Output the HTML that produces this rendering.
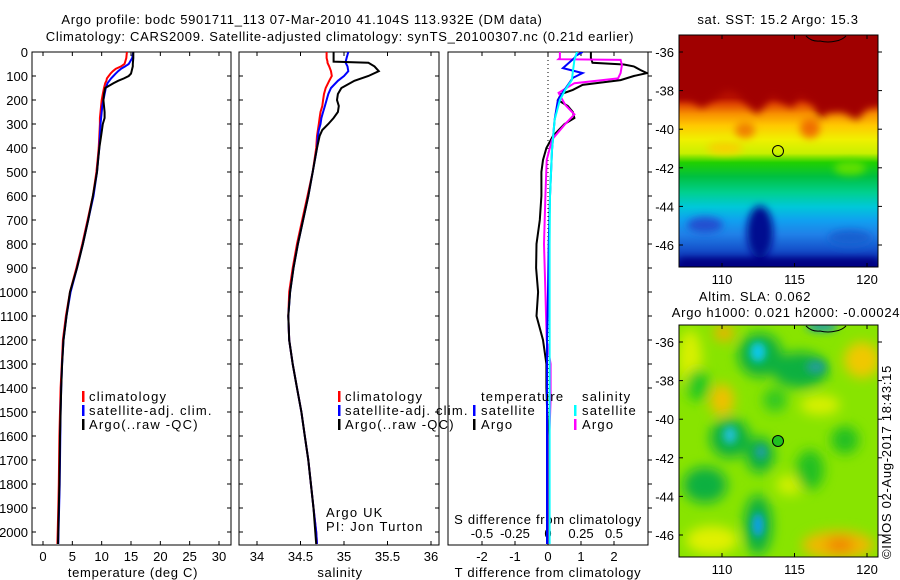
<!DOCTYPE html>
<html><head><meta charset="utf-8">
<style>
html,body{margin:0;padding:0;background:#fff;}
svg{display:block;font-family:"Liberation Sans",sans-serif;}
text{font-size:13px;fill:#000;}
.w{letter-spacing:0.7px;}
.lw{letter-spacing:1.2px;}
</style></head>
<body>
<svg id="fig" width="900" height="580" viewBox="0 0 900 580" xmlns="http://www.w3.org/2000/svg">
<defs>
<clipPath id="c1"><rect x="32" y="52" width="199" height="493"/></clipPath>
<clipPath id="c2"><rect x="239" y="52" width="200" height="493"/></clipPath>
<clipPath id="c3"><rect x="448" y="52" width="200" height="493"/></clipPath>
<clipPath id="m1"><rect x="679" y="35" width="199" height="232"/></clipPath>
<clipPath id="m2"><rect x="679" y="325" width="199" height="232"/></clipPath>
<linearGradient id="sstg" gradientUnits="userSpaceOnUse" x1="0" y1="35" x2="0" y2="267">
<stop offset="0" stop-color="#a00000"/><stop offset="0.27" stop-color="#b81000"/>
<stop offset="0.3" stop-color="#e04800"/><stop offset="0.34" stop-color="#f89000"/>
<stop offset="0.39" stop-color="#ffc800"/><stop offset="0.45" stop-color="#f0f000"/>
<stop offset="0.51" stop-color="#c8f000"/><stop offset="0.55" stop-color="#20d000"/>
<stop offset="0.61" stop-color="#00c040"/><stop offset="0.68" stop-color="#00d090"/>
<stop offset="0.74" stop-color="#00c8d8"/><stop offset="0.8" stop-color="#10a0f0"/>
<stop offset="0.86" stop-color="#2080e8"/><stop offset="0.95" stop-color="#1040c0"/>
<stop offset="1" stop-color="#000090"/></linearGradient>
<filter id="bl" x="-20%" y="-20%" width="140%" height="140%"><feGaussianBlur stdDeviation="4"/></filter>
<filter id="bl2" x="-30%" y="-30%" width="160%" height="160%"><feGaussianBlur stdDeviation="6"/></filter>
</defs>

<text class="w" x="302" y="24" text-anchor="middle">Argo profile: bodc 5901711_113 07-Mar-2010 41.104S 113.932E (DM data)</text>
<text class="w" x="340" y="41" text-anchor="middle">Climatology: CARS2009. Satellite-adjusted climatology: synTS_20100307.nc (0.21d earlier)</text>

<g id="p1"></g>
<g id="p2"></g>
<g id="p3"></g>

<g>
<text class="w" x="778" y="24" text-anchor="middle">sat. SST: 15.2 Argo: 15.3</text>
<g clip-path="url(#m1)">
<rect x="679" y="35" width="199" height="232" fill="url(#sstg)"/>
<g filter="url(#bl)">
<polygon fill="#a00000" points="660,20 900,20 900,104 868,108 857,120 842,112 828,113 820,119 812,104 800,96 792,108 780,101 772,96 765,106 757,114 746,104 738,94 727,90 716,98 702,108 690,100 670,100"/>
<ellipse cx="745" cy="130" rx="10" ry="8" fill="#f08000"/>
<ellipse cx="810" cy="128" rx="10" ry="10" fill="#f07000"/>
<ellipse cx="725" cy="148" rx="18" ry="6" fill="#f8d000"/>
<ellipse cx="850" cy="168" rx="16" ry="7" fill="#60e000"/>
<ellipse cx="760" cy="232" rx="13" ry="26" fill="#001090"/>
<ellipse cx="705" cy="225" rx="18" ry="8" fill="#2050d0"/>
<ellipse cx="850" cy="238" rx="22" ry="8" fill="#1860d0"/>
<rect x="679" y="258" width="199" height="12" fill="#000080"/>
</g>
<path d="M806,36 Q812,42 820,41 Q828,43 836,41 Q842,40 846,36" fill="none" stroke="#000" stroke-width="1"/>
</g>
<rect x="679" y="35" width="199" height="232" fill="none" stroke="#000" stroke-width="1"/>
<circle cx="778" cy="151" r="5.5" fill="none" stroke="#000" stroke-width="1"/>
<g id="m1ax"></g>
</g>

<g>
<text class="w" x="755" y="301" text-anchor="middle">Altim. SLA: 0.062</text>
<text class="w" x="786" y="317" text-anchor="middle">Argo h1000: 0.021 h2000: -0.00024</text>
<g clip-path="url(#m2)">
<rect x="679" y="325" width="199" height="232" fill="#88e400"/>
<g filter="url(#bl2)">
<ellipse cx="690" cy="360" rx="12" ry="30" fill="#d8f000"/>
<ellipse cx="724" cy="333" rx="10" ry="8" fill="#f0b000"/>
<ellipse cx="722" cy="400" rx="12" ry="16" fill="#f0c000"/>
<ellipse cx="862" cy="360" rx="18" ry="18" fill="#f0c800"/>
<ellipse cx="820" cy="405" rx="20" ry="10" fill="#d8f000"/>
<ellipse cx="790" cy="485" rx="14" ry="10" fill="#d0f000"/>
<ellipse cx="712" cy="540" rx="26" ry="14" fill="#e0f000"/>
<ellipse cx="838" cy="545" rx="36" ry="14" fill="#f0b800"/>
<ellipse cx="840" cy="545" rx="14" ry="7" fill="#f08000"/>
<ellipse cx="698" cy="385" rx="12" ry="16" fill="#20c820"/>
<ellipse cx="760" cy="355" rx="22" ry="22" fill="#10b040"/>
<ellipse cx="800" cy="370" rx="28" ry="18" fill="#10b040"/>
<ellipse cx="730" cy="438" rx="20" ry="20" fill="#10b040"/>
<ellipse cx="760" cy="455" rx="14" ry="18" fill="#10b040"/>
<ellipse cx="705" cy="485" rx="22" ry="18" fill="#10b040"/>
<ellipse cx="758" cy="525" rx="14" ry="30" fill="#10b040"/>
<ellipse cx="810" cy="470" rx="14" ry="20" fill="#20c020"/>
<ellipse cx="845" cy="440" rx="14" ry="14" fill="#20c020"/>
<ellipse cx="775" cy="400" rx="12" ry="12" fill="#30c820"/>
</g>
<g filter="url(#bl)">
<ellipse cx="758" cy="352" rx="8" ry="10" fill="#10c8e8"/>
<ellipse cx="816" cy="367" rx="10" ry="7" fill="#20a090"/>
<ellipse cx="730" cy="435" rx="7" ry="9" fill="#20c0d0"/>
<ellipse cx="761" cy="452" rx="6" ry="7" fill="#20a0a0"/>
<ellipse cx="758" cy="525" rx="6" ry="12" fill="#10a0e8"/>
<ellipse cx="822" cy="327" rx="16" ry="5" fill="#20a0a0"/>
</g>
<path d="M806,326 Q812,332 820,331 Q828,333 836,331 Q842,330 846,326" fill="none" stroke="#000" stroke-width="1"/>
</g>
<rect x="679" y="325" width="199" height="232" fill="none" stroke="#000" stroke-width="1"/>
<circle cx="778" cy="441" r="5.5" fill="#20c020" stroke="#000" stroke-width="1"/>
<g id="m2ax"></g>
</g>
<text class="w" transform="translate(891,462) rotate(-90)" text-anchor="middle">©IMOS 02-Aug-2017 18:43:15</text>

<script>
const depthT = [0,25,50,60,70,80,90,100,110,120,130,150,175,200,225,250,275,300,350,400,450,500,600,700,800,900,1000,1100,1200,1300,1400,1500,1600,1700,1800,1900,2000,2050];
const tempArgo = [15.4,15.4,15.3,15.3,15.2,15.1,15.0,14.6,13.8,12.8,12.0,10.6,10.4,10.3,10.4,10.5,10.5,10.2,9.9,9.6,9.4,9.2,8.5,7.7,6.8,5.8,4.6,4.0,3.5,3.25,3.1,3.0,2.9,2.85,2.8,2.7,2.6,2.55];
const tempClim = [14.3,14.2,13.9,13.3,12.4,11.9,11.5,11.2,10.9,10.8,10.6,10.4,10.2,10.0,9.9,9.8,9.7,9.7,9.6,9.5,9.3,9.1,8.5,7.6,6.7,5.7,4.6,3.9,3.4,3.2,3.0,2.9,2.8,2.75,2.7,2.6,2.5,2.45];
const tempSat = [15.4,15.2,14.6,14.0,13.3,12.8,12.4,12.0,11.6,11.3,11.0,10.7,10.5,10.3,10.1,10.0,9.9,9.8,9.7,9.6,9.4,9.2,8.6,7.7,6.8,5.8,4.7,4.0,3.5,3.25,3.1,3.0,2.95,2.9,2.85,2.75,2.65,2.6];

const depthS = [0,25,40,45,60,80,100,120,150,175,200,225,250,275,300,325,350,400,500,600,700,800,900,1000,1100,1200,1300,1400,1500,1600,1700,1800,1900,2000,2050];
const salArgo = [34.88,34.88,34.88,35.28,35.35,35.40,35.28,35.12,34.97,34.93,34.92,34.94,34.93,34.88,34.82,34.75,34.72,34.69,34.64,34.59,34.53,34.47,34.42,34.38,34.36,34.37,34.41,34.46,34.51,34.55,34.59,34.62,34.65,34.67,34.68];
const salClim = [34.80,34.80,34.81,34.81,34.83,34.85,34.86,34.83,34.79,34.77,34.76,34.75,34.73,34.72,34.71,34.70,34.69,34.68,34.64,34.58,34.52,34.46,34.41,34.37,34.36,34.37,34.41,34.46,34.51,34.55,34.59,34.62,34.65,34.68,34.69];
const salSat = [35.05,35.03,35.02,35.02,35.04,35.05,35.00,34.93,34.85,34.82,34.80,34.78,34.76,34.74,34.73,34.71,34.70,34.69,34.64,34.59,34.53,34.47,34.42,34.38,34.36,34.37,34.41,34.46,34.51,34.55,34.59,34.62,34.65,34.68,34.69];

const depthDTA = [0,25,45,52,60,75,88,100,117,137,158,175,200,225,250,275,300,350,400,450,500,600,700,800,900,1000,1100,1200,1300,1400,1600,1800,2000,2050];
const dTempArgo = [1.3,1.3,1.35,2.3,2.6,2.8,3.0,2.6,2.2,1.05,0.75,0.4,0.3,0.6,0.75,0.8,0.5,0.15,-0.05,-0.15,-0.2,-0.2,-0.25,-0.35,-0.36,-0.3,-0.35,-0.15,-0.05,-0.05,0,0,0,0];
const depthDSA = [0,25,30,33,54,88,110,130,170,220,260,300,365,450,600,800,1000,1200,1300,1450,1600,1800,2000,2050];
const dSalArgo = [0.09,0.09,0.08,0.55,0.56,0.55,0.53,0.2,0.08,0.13,0.2,0.13,0.03,-0.01,-0.02,-0.03,-0.02,-0.01,0.02,0.02,0.01,0.01,0.01,0.01];
const depthDTS = [0,15,25,67,88,108,158,200,283,408,600,800,1000,1200,1400,1600,1800,2000,2050];
const dTempSat = [1.05,0.85,0.8,0.45,1.05,0.75,0.5,0.3,0.2,0.12,0.06,0.02,0,-0.03,-0.03,-0.03,-0.03,-0.03,-0.03];
const depthDSS = [0,33,75,117,158,200,283,408,600,800,1000,1200,1400,1600,1800,2000,2050];
const dSalSat = [0.22,0.2,0.19,0.18,0.13,0.09,0.05,0.03,0.015,0.012,0.012,0.012,0.012,0.012,0.012,0.012,0.012];

const depthTicks = [0,100,200,300,400,500,600,700,800,900,1000,1100,1200,1300,1400,1500,1600,1700,1800,1900,2000];
const tempTicks = [0,5,10,15,20,25,30];
const salTicks = [34,34.5,35,35.5,36];
const dTempTicks = [-2,-1,0,1,2];
const dSalTicks = [-0.5,-0.25,0,0.25,0.5];
const latTicks = [-36,-38,-40,-42,-44,-46];
const lonTicks = [110,115,120];

const yD = d => 52 + d*0.24;
const xT = t => 43 + t*5.8667;
const xS = s => 257 + (s-34)*87;
const xDT = v => 548 + v*33;
const xDS = v => 548 + v*132;
const lonX = lo => 722 + (lo-110)*14.5;
const latY1 = la => 52 + (-36-la)*19.3;
const latY2 = la => 342 + (-36-la)*19.3;

const NS = "http://www.w3.org/2000/svg";
function mk(tag, attrs, parent){const e=document.createElementNS(NS,tag);for(const k in attrs)e.setAttribute(k,attrs[k]);parent.appendChild(e);return e;}
function txt(s,x,y,anchor,parent,cls){const e=mk('text',{x:x,y:y,'text-anchor':anchor},parent);if(cls)e.setAttribute('class',cls);e.textContent=s;return e;}

function line(parent, depths, vals, xf, color, name, clip){
  const pts = depths.map((d,i)=>xf(vals[i]).toFixed(1)+','+yD(d).toFixed(1)).join(' ');
  const el = mk('polyline',{points:pts,fill:'none',stroke:color,'stroke-width':2,'clip-path':'url(#'+clip+')'},parent);
  
  
}
function frame(parent,x,w,name){
  const r = mk('rect',{x:x,y:52,width:w,height:493,fill:'none',stroke:'#000','stroke-width':1},parent);
  
  
}
function dticks(parent,x0,x1,left,right,outR){
  depthTicks.forEach(d=>{
    const y=yD(d);
    if(left) mk('line',{x1:x0,x2:x0+4,y1:y,y2:y,stroke:'#000'},parent);
    if(right) mk('line',{x1:x1,x2:outR?x1+4:x1-4,y1:y,y2:y,stroke:'#000'},parent);
  });
}

const p1=document.getElementById('p1');
frame(p1,32,199,'temperature-frame');
dticks(p1,32,231,true,true,false);
const yl=mk('g',{},p1);


depthTicks.forEach(d=>txt(String(d),28,yD(d)+5,'end',yl));
tempTicks.forEach(t=>{const x=xT(t);mk('line',{x1:x,x2:x,y1:545,y2:541,stroke:'#000'},p1);mk('line',{x1:x,x2:x,y1:52,y2:56,stroke:'#000'},p1);txt(String(t),x,561,'middle',p1);});
txt('temperature (deg C)',133,577,'middle',p1,'w');
line(p1,depthT,tempClim,xT,'#ff0000','temp-climatology-line','c1');
line(p1,depthT,tempSat,xT,'#0000ff','temp-satellite-line','c1');
line(p1,depthT,tempArgo,xT,'#000000','temp-argo-line','c1');

function legend(parent,x,items,name){
  const g=mk('g',{},parent);
  
  
  items.forEach((it,i)=>{const y=401+i*14;mk('rect',{x:x,y:y-10,width:2.5,height:11,fill:it[1]},g);txt(it[0],x+7,y,'start',g,'lw');});
}
legend(p1,82,[['climatology','#ff0000'],['satellite-adj. clim.','#0000ff'],['Argo(..raw -QC)','#000']],'temperature-legend');

const p2=document.getElementById('p2');
frame(p2,239,200,'salinity-frame');
dticks(p2,239,439,true,true,false);
salTicks.forEach(s=>{const x=xS(s);mk('line',{x1:x,x2:x,y1:545,y2:541,stroke:'#000'},p2);mk('line',{x1:x,x2:x,y1:52,y2:56,stroke:'#000'},p2);txt(String(s),x,561,'middle',p2);});
txt('salinity',340,577,'middle',p2,'w');
line(p2,depthS,salClim,xS,'#ff0000','sal-climatology-line','c2');
line(p2,depthS,salSat,xS,'#0000ff','sal-satellite-line','c2');
line(p2,depthS,salArgo,xS,'#000000','sal-argo-line','c2');
legend(p2,338,[['climatology','#ff0000'],['satellite-adj. clim.','#0000ff'],['Argo(..raw -QC)','#000']],'salinity-legend');
txt('Argo UK',326,517,'start',p2,'lw');
txt('PI: Jon Turton',326,531,'start',p2,'lw');

const p3=document.getElementById('p3');
frame(p3,448,200,'difference-frame');
dticks(p3,448,648,false,true,true);
mk('line',{x1:548,x2:548,y1:52,y2:545,stroke:'#000','stroke-dasharray':'1,3'},p3);
dTempTicks.forEach(v=>{const x=xDT(v);mk('line',{x1:x,x2:x,y1:545,y2:541,stroke:'#000'},p3);mk('line',{x1:x,x2:x,y1:52,y2:56,stroke:'#000'},p3);txt(v<0?'-'+Math.abs(v):String(v),x,561,'middle',p3);});
dSalTicks.forEach(v=>{const x=xDS(v);txt(v<0?'-'+Math.abs(v):String(v),x,538,'middle',p3);});
txt('S difference from climatology',548,524,'middle',p3,'w');
txt('T difference from climatology',548,577,'middle',p3,'w');
line(p3,depthDTA,dTempArgo,xDT,'#000000','dtemp-argo-line','c3');
line(p3,depthDSA,dSalArgo,xDS,'#ff00ff','dsal-argo-line','c3');
line(p3,depthDTS,dTempSat,xDT,'#0000ff','dtemp-satellite-line','c3');
line(p3,depthDSS,dSalSat,xDS,'#00ffff','dsal-satellite-line','c3');
const lg=mk('g',{},p3);


txt('temperature',481,401,'start',lg,'lw');txt('salinity',582,401,'start',lg,'lw');
[['satellite','#0000ff',473],['Argo','#000',473],['satellite','#00ffff',574],['Argo','#ff00ff',574]].forEach((it,i)=>{const y=415+(i%2)*14;mk('rect',{x:it[2],y:y-10,width:2.5,height:11,fill:it[1]},lg);txt(it[0],it[2]+8,y,'start',lg,'lw');});

function mapAxes(id,latY,top,bot){
  const g=document.getElementById(id);
  latTicks.forEach(la=>{const y=latY(la);mk('line',{x1:679,x2:683,y1:y,y2:y,stroke:'#000'},g);mk('line',{x1:878,x2:882,y1:y,y2:y,stroke:'#000'},g);txt(String(la),674,y+5,'end',g);});
  lonTicks.forEach(lo=>{const x=lonX(lo);mk('line',{x1:x,x2:x,y1:top,y2:top+4,stroke:'#000'},g);mk('line',{x1:x,x2:x,y1:bot,y2:bot-4,stroke:'#000'},g);txt(String(lo),x,bot+17,'middle',g);});
}
mapAxes('m1ax',latY1,35,267);
mapAxes('m2ax',latY2,325,557);
</script>
</svg>
</body></html>
